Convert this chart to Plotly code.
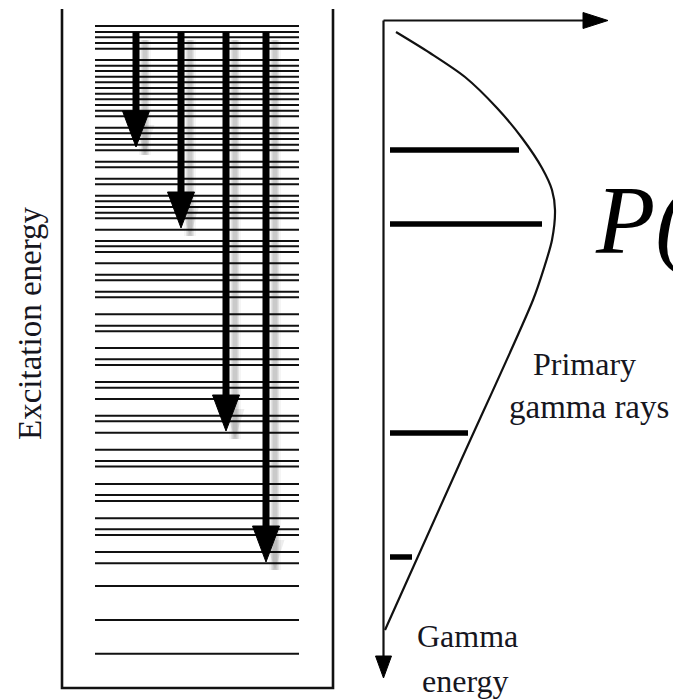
import plotly.graph_objects as go

# Canvas coordinates (pixels, y grows downward)
W, H = 673, 700

# Excitation levels in the left panel (y positions, top = highest energy)
level_y = [26, 32, 37.3, 43, 48.7, 60, 65.7, 71, 76.7, 82.3, 88, 93.7, 99.3,
           105, 110.7, 116.3, 127.7, 133.3, 139, 144.7, 150.3, 161.7, 167.3,
           178.7, 184.3, 195.7, 201.3, 207, 212.7, 218.3, 229.7, 241, 246.3,
           252, 263.3, 274.7, 280.3, 291.7, 297.3, 314.3, 325.7, 331.3, 348,
           359.3, 365, 382, 387.7, 399, 415.7, 421.3, 432.7, 449.7, 461,
           466.5, 484, 495, 501, 518.3, 529.3, 535, 552, 563.3, 586, 620, 653.7]
level_x0, level_x1 = 95, 299

# Primary gamma transitions: x position, start level, end level
arrow_x = [136, 181, 226, 266]
arrow_top = [32, 32, 32, 32]
arrow_tip = [147, 228, 431, 562]

# Box around the level scheme (open at the top)
box_x = [62, 62, 333, 333]
box_y = [9, 688, 688, 9]

# Gamma-ray spectrum: peaks (y position, length)
peak_y = [150, 224, 433, 557]
peak_len = [519, 542, 468, 412]
peak_x0 = 390

# Envelope P(E) of the primary gamma rays
curve_x = [396, 430, 465, 497, 522, 542, 552, 555, 552, 544, 533, 459, 385]
curve_y = [32, 53, 77, 108, 138, 168, 190, 210, 240, 268, 300, 465, 630]

# Spectrum axes
axis_x, axis_top, axis_bottom = 383.5, 20.5, 678
haxis_end = 608

fig = go.Figure()

# energy levels
for y in level_y:
    fig.add_trace(go.Scatter(x=[level_x0, level_x1], y=[y, y], mode="lines",
                             line=dict(color="#111", width=1.9),
                             hoverinfo="skip", showlegend=False))

# box
fig.add_trace(go.Scatter(x=box_x, y=box_y, mode="lines",
                         line=dict(color="#111", width=2.6),
                         hoverinfo="skip", showlegend=False))

# arrows with soft drop shadows
HEAD_L, HEAD_W, SH = 36, 13.5, 9
for x, y0, y1 in zip(arrow_x, arrow_top, arrow_tip):
    for w, a in [(12, 0.04), (8, 0.07), (5, 0.11)]:
        fig.add_trace(go.Scatter(x=[x + SH, x + SH], y=[y0 + 8, y1 + 8], mode="lines",
                                 line=dict(color=f"rgba(0,0,0,{a})", width=w),
                                 hoverinfo="skip", showlegend=False))
    fig.add_trace(go.Scatter(x=[x + SH - HEAD_W * 0.7, x + SH + HEAD_W * 0.7, x + SH, x + SH - HEAD_W * 0.7],
                             y=[y1 - HEAD_L + 14, y1 - HEAD_L + 14, y1 + 8, y1 - HEAD_L + 14],
                             mode="lines", fill="toself", fillcolor="rgba(0,0,0,0.07)",
                             line=dict(width=0), hoverinfo="skip", showlegend=False))
    fig.add_trace(go.Scatter(x=[x, x], y=[y0, y1 - HEAD_L + 2], mode="lines",
                             line=dict(color="#000", width=7),
                             hoverinfo="skip", showlegend=False))
    fig.add_trace(go.Scatter(x=[x - HEAD_W, x + HEAD_W, x, x - HEAD_W],
                             y=[y1 - HEAD_L, y1 - HEAD_L, y1, y1 - HEAD_L],
                             mode="lines", fill="toself", fillcolor="#000",
                             line=dict(color="#000", width=1),
                             hoverinfo="skip", showlegend=False))

# spectrum axes
fig.add_trace(go.Scatter(x=[axis_x, axis_x], y=[axis_top, axis_bottom - 18], mode="lines",
                         line=dict(color="#111", width=2.2), hoverinfo="skip", showlegend=False))
fig.add_trace(go.Scatter(x=[axis_x, haxis_end - 22], y=[axis_top, axis_top], mode="lines",
                         line=dict(color="#111", width=2.2), hoverinfo="skip", showlegend=False))
fig.add_trace(go.Scatter(x=[axis_x - 8, axis_x + 8, axis_x, axis_x - 8],
                         y=[axis_bottom - 22, axis_bottom - 22, axis_bottom, axis_bottom - 22],
                         mode="lines", fill="toself", fillcolor="#000", line=dict(color="#000", width=1),
                         hoverinfo="skip", showlegend=False))
fig.add_trace(go.Scatter(x=[haxis_end - 25, haxis_end - 25, haxis_end, haxis_end - 25],
                         y=[axis_top - 8, axis_top + 8, axis_top, axis_top - 8],
                         mode="lines", fill="toself", fillcolor="#000", line=dict(color="#000", width=1),
                         hoverinfo="skip", showlegend=False))

# envelope
fig.add_trace(go.Scatter(x=curve_x, y=curve_y, mode="lines",
                         line=dict(color="#111", width=2.2, shape="spline", smoothing=0.8),
                         hoverinfo="skip", showlegend=False))

# discrete peaks
for y, x1 in zip(peak_y, peak_len):
    fig.add_trace(go.Scatter(x=[peak_x0, x1], y=[y, y], mode="lines",
                             line=dict(color="#000", width=5.5),
                             hoverinfo="skip", showlegend=False))

serif = "Liberation Serif, Times New Roman, serif"
ink = "#16161e"
annotations = [
    dict(x=30, y=323, text="Excitation energy", textangle=-90,
         font=dict(family=serif, size=33, color=ink), xanchor="center", yanchor="middle"),
    dict(x=584, y=364, text="Primary",
         font=dict(family=serif, size=32, color=ink), xanchor="center", yanchor="middle"),
    dict(x=589, y=407, text="gamma rays",
         font=dict(family=serif, size=33, color=ink), xanchor="center", yanchor="middle"),
    dict(x=467, y=636, text="Gamma",
         font=dict(family=serif, size=32, color=ink), xanchor="center", yanchor="middle"),
    dict(x=465, y=681, text="energy",
         font=dict(family=serif, size=32, color=ink), xanchor="center", yanchor="middle"),
    dict(x=593, y=220, text="<i>P(</i>",
         font=dict(family=serif, size=97, color="#000"), xanchor="left", yanchor="middle"),
]
for a in annotations:
    a.update(xref="x", yref="y", showarrow=False)

fig.update_layout(
    width=W, height=H,
    margin=dict(l=0, r=0, t=0, b=0),
    paper_bgcolor="white", plot_bgcolor="white",
    xaxis=dict(range=[0, W], visible=False, fixedrange=True),
    yaxis=dict(range=[H, 0], visible=False, fixedrange=True),
    annotations=annotations,
    showlegend=False,
)

fig.write_html("out.html", config={"displayModeBar": False})
